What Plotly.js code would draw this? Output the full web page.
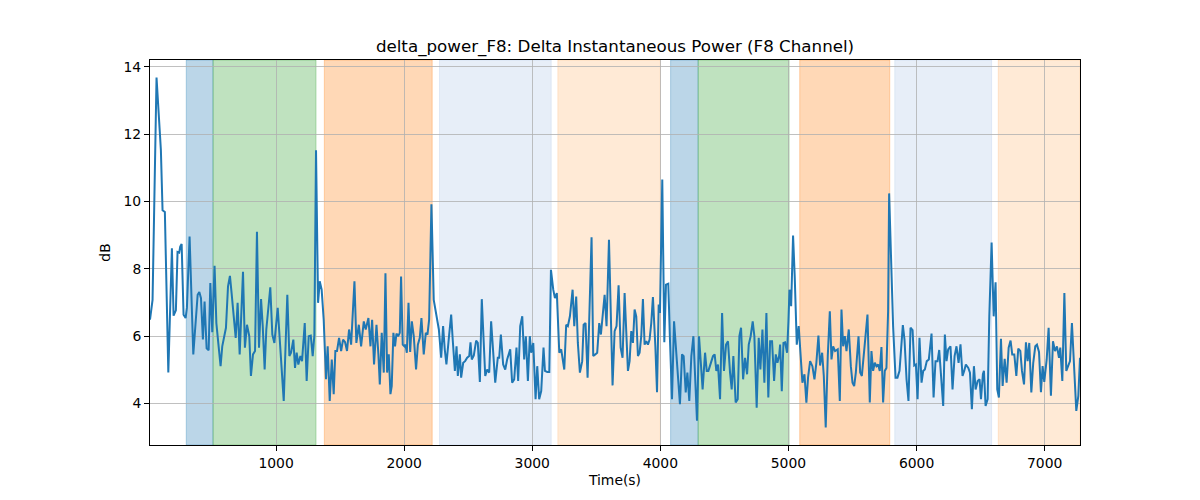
<!DOCTYPE html>
<html>
<head>
<meta charset="utf-8">
<script src="https://cdn.plot.ly/plotly-3.0.1.min.js"></script>
<style>
  html, body { margin: 0; padding: 0; background: #fff; }
  #chart { width: 1200px; height: 500px; }
</style>
</head>
<body>
<div id="chart"></div>
<script>
// time stamps (s) of the drawn vertices
var times = [
  16, 36, 67, 88, 101, 114, 132, 159, 187, 200, 218, 231, 244, 252, 263, 278, 294, 304, 325, 354,
  375, 388, 401, 414, 429, 442, 458, 474, 487, 502, 520, 534, 549, 567, 580, 596, 609, 625, 640, 653,
  669, 685, 700, 716, 742, 757, 773, 791, 804, 820, 836, 851, 867, 883, 896, 911, 924,
  955, 971, 987, 1013, 1034, 1060, 1075, 1088, 1104, 1117, 1135, 1148, 1161, 1174, 1190, 1203, 1224, 1239, 1255, 1271,
  1286, 1299, 1312, 1328, 1341, 1356, 1372, 1390, 1403, 1419, 1435, 1450, 1463, 1476, 1492, 1508, 1523, 1539, 1554, 1570,
  1586, 1612, 1627, 1646, 1664, 1685, 1700, 1721, 1737, 1750, 1765, 1784, 1799, 1810, 1825, 1841, 1854,
  1867, 1880, 1893, 1903, 1916, 1929, 1940, 1953, 1966, 1976, 1989, 2002, 2010, 2021, 2034, 2047, 2060, 2075, 2093, 2107,
  2122, 2135, 2153, 2169, 2182, 2195, 2213, 2231, 2250, 2271, 2289, 2304, 2317, 2330, 2349, 2367, 2380, 2396, 2409, 2419,
  2435, 2445, 2461, 2476, 2492, 2508, 2518, 2528, 2544, 2562, 2575, 2591, 2606, 2633, 2648, 2664, 2679, 2698, 2711, 2731,
  2742, 2755, 2773, 2789, 2804,
  2828, 2843, 2859, 2877, 2890, 2906, 2922, 2937, 2950, 2966, 2981, 2992, 3008, 3026, 3039, 3054, 3070, 3088, 3099, 3117,
  3133, 3146, 3164, 3177, 3192, 3211, 3226, 3250, 3265, 3278, 3294, 3315, 3328, 3343, 3356, 3372, 3390, 3401, 3416, 3432,
  3463, 3476, 3492, 3507, 3523, 3536, 3565, 3580, 3599, 3627, 3643, 3658, 3674, 3690, 3705,
  3721, 3747, 3760, 3773, 3786, 3799, 3812, 3825, 3838, 3851, 3864, 3877, 3890, 3903, 3916, 3929, 3942, 3961, 3974, 3987,
  3997, 4015, 4031, 4044, 4062, 4075, 4091, 4107, 4122, 4138, 4153, 4169, 4182, 4198, 4211, 4226, 4242, 4258, 4271, 4286,
  4302, 4317, 4330, 4349, 4362, 4375, 4393, 4411, 4424, 4437, 4450, 4466, 4482, 4497, 4513, 4528, 4544, 4557, 4570, 4588,
  4604, 4617, 4630, 4646, 4661, 4677, 4690,
  4705, 4721, 4734, 4752, 4768, 4781, 4797, 4812, 4828, 4843, 4857, 4872, 4888, 4901, 4914, 4927, 4935, 4948, 4961, 4974,
  4989, 5000, 5008, 5021, 5036, 5049, 5065, 5080, 5093, 5109, 5125, 5140, 5153, 5169, 5187, 5203, 5218, 5234, 5247, 5263,
  5276, 5291, 5307, 5323, 5336, 5349, 5364, 5385, 5401, 5414, 5427, 5440, 5453, 5471, 5487, 5500, 5513, 5526, 5547, 5560,
  5573, 5588, 5601, 5617,
  5635, 5648, 5661, 5674, 5687, 5700, 5713, 5726, 5739, 5752, 5765, 5778, 5786, 5799, 5817, 5836, 5851, 5867, 5883, 5893,
  5906, 5922, 5937, 5953, 5969, 5982, 5995, 6008, 6023, 6039, 6052, 6065, 6080, 6096, 6117, 6133, 6148, 6164, 6177, 6192,
  6208, 6221, 6234, 6247, 6265, 6281, 6297, 6312, 6328, 6343, 6359, 6372,
  6385, 6404, 6417, 6432, 6448, 6461, 6477, 6492, 6503, 6518, 6526, 6539, 6555, 6568, 6586, 6602, 6617, 6630, 6643, 6659,
  6672, 6688, 6703, 6719, 6734, 6747, 6763, 6779, 6794, 6810, 6823, 6839, 6854, 6867, 6880, 6896, 6911, 6927, 6940, 6956,
  6971, 6984, 6997, 7016, 7031, 7049, 7065, 7081, 7096, 7112, 7122, 7138, 7154, 7169, 7185, 7198, 7213, 7232, 7247, 7263,
  7276
];

// delta power (dB) at those times
var power = [
  6.49, 7.08, 13.68, 12.21, 11.52, 9.74, 9.69, 4.92, 8.61, 6.61, 6.77, 8.50, 8.48, 8.66, 8.74, 6.64, 6.54, 6.84, 8.96, 5.46,
  6.69, 7.23, 7.31, 7.13, 5.90, 7.03, 5.64, 5.58, 7.58, 6.12, 8.09, 6.39, 5.80, 5.11, 5.70, 6.05, 6.25, 7.48, 7.79, 7.28,
  6.69, 5.95, 6.99, 5.46, 7.91, 5.66, 6.34, 6.00, 4.82, 5.46, 5.56, 9.10, 5.66, 7.10, 6.30, 5.01, 6.20,
  7.45, 6.05, 5.80, 6.84, 5.51, 4.08, 5.80, 7.23, 5.41, 5.51, 5.90, 5.06, 5.51, 5.16, 5.41, 5.26, 6.39, 4.67, 6.00, 6.02,
  5.41, 6.02, 11.52, 6.99, 7.63, 7.38, 6.49, 4.72, 5.70, 4.08, 5.31, 4.28, 5.56, 5.56, 5.95, 5.56, 5.90, 5.82, 5.56, 6.20,
  5.75, 7.63, 5.80, 6.34, 5.70, 6.44, 6.20, 6.54, 5.70, 6.49, 5.16, 6.34, 5.46, 4.57, 6.10, 4.92, 7.87,
  4.92, 5.46, 4.28, 4.52, 6.10, 5.70, 6.08, 6.00, 6.10, 7.77, 5.75, 5.70, 5.75, 5.51, 6.99, 5.53, 6.44, 6.00, 5.01, 5.75,
  5.95, 6.54, 5.46, 6.10, 6.05, 6.49, 9.92, 7.08, 6.64, 6.20, 5.36, 6.30, 5.61, 5.16, 5.95, 6.64, 5.85, 4.97, 5.70, 4.82,
  5.46, 4.77, 5.21, 5.26, 5.36, 5.41, 5.82, 5.31, 5.43, 5.87, 5.80, 4.64, 7.10, 4.82, 5.01, 4.92, 6.44, 5.36, 4.62, 5.36,
  5.36, 6.05, 5.16, 5.01, 5.31,
  5.61, 4.62, 4.72, 5.66, 4.67, 6.30, 6.59, 5.31, 6.00, 4.67, 6.00, 5.51, 5.80, 4.13, 5.11, 4.13, 4.37, 5.66, 4.97, 4.94,
  4.94, 7.97, 7.38, 7.13, 7.28, 5.51, 5.61, 5.01, 6.34, 6.30, 6.59, 7.38, 6.30, 7.18, 5.80, 4.92, 5.26, 6.34, 6.39, 4.77,
  8.94, 5.41, 5.46, 5.51, 6.39, 6.05, 7.23, 6.30, 8.86, 4.54, 6.15, 6.30, 7.51, 5.66, 5.36,
  7.28, 4.97, 5.26, 6.15, 5.80, 6.79, 6.59, 5.41, 5.51, 6.00, 7.10, 5.75, 5.85, 5.75, 5.90, 6.39, 7.16, 5.70, 4.34, 6.94,
  6.69, 10.65, 5.82, 7.53, 7.56, 5.90, 4.13, 6.44, 5.61, 4.92, 3.98, 5.46, 5.41, 4.33, 4.92, 4.08, 5.41, 6.00, 4.72, 3.49,
  6.00, 5.06, 4.42, 5.51, 4.97, 4.97, 5.16, 5.41, 5.46, 4.97, 5.16, 4.13, 6.69, 4.97, 5.75, 5.85, 4.92, 4.42, 5.41, 4.03,
  4.13, 6.00, 6.25, 4.72, 5.36, 4.87, 5.75,
  6.00, 6.44, 6.00, 3.88, 5.95, 5.01, 6.20, 4.62, 6.69, 4.18, 5.85, 5.85, 4.67, 5.46, 5.21, 5.41, 5.75, 4.37, 5.80, 5.82,
  5.51, 6.44, 7.38, 6.89, 8.99, 7.77, 5.75, 6.30, 5.51, 4.62, 4.87, 4.03, 4.77, 5.26, 5.11, 4.72, 5.21, 6.02, 5.13, 5.51,
  4.82, 3.29, 5.41, 6.74, 5.31, 5.70, 5.56, 5.61, 4.08, 6.79, 5.70, 6.00, 5.56, 6.20, 5.11, 4.62, 4.52, 4.92, 6.00, 4.92,
  4.82, 5.41, 5.90, 6.64,
  4.03, 5.56, 4.97, 5.21, 5.11, 5.16, 4.97, 5.68, 4.03, 4.97, 5.06, 6.74, 10.24, 8.66, 6.30, 4.77, 4.77, 4.97, 6.00, 6.33,
  5.90, 4.72, 4.08, 6.25, 6.18, 5.13, 5.16, 4.13, 5.95, 4.62, 4.97, 5.01, 5.26, 5.31, 6.08, 4.18, 5.26, 5.26, 5.59, 4.82,
  3.93, 6.05, 5.26, 5.61, 5.70, 4.42, 5.41, 5.70, 5.21, 5.76, 4.82, 4.97,
  5.16, 5.06, 4.92, 3.83, 5.11, 4.42, 4.67, 4.72, 4.13, 4.87, 4.97, 3.93, 4.13, 6.59, 8.78, 6.59, 7.60, 4.42, 4.18, 5.92,
  4.52, 5.33, 4.62, 5.66, 5.87, 5.46, 5.46, 4.82, 5.63, 5.56, 4.97, 4.57, 5.82, 5.26, 5.80, 4.33, 5.21, 5.70, 5.75, 5.53,
  4.34, 5.11, 4.64, 5.31, 6.25, 4.23, 5.85, 5.56, 5.70, 5.36, 5.66, 4.67, 7.28, 4.97, 5.11, 5.26, 6.39, 4.97, 3.78, 4.23,
  5.36
];

// shaded phases (start / end in seconds, and phase kind)
var spanStart = [299, 508, 1377, 2276, 3200, 4080, 4295, 5088, 5830, 6638];
var spanEnd   = [508, 1312, 2219, 3148, 4000, 4295, 5005, 5791, 6586, 7276];
var spanKind  = ["a", "b", "c", "d", "e", "a", "b", "c", "d", "e"];

var kindColor = {
    a: "rgba(31,119,180,0.3)",
    b: "rgba(44,160,44,0.3)",
    c: "rgba(255,127,14,0.3)",
    d: "rgba(174,199,232,0.3)",
    e: "rgba(255,187,120,0.3)"
};

var shapes = spanStart.map(function (s, i) {
    return {
        type: "rect",
        xref: "x",
        yref: "paper",
        x0: s,
        x1: spanEnd[i],
        y0: 0,
        y1: 1,
        fillcolor: kindColor[spanKind[i]],
        line: { width: 1, color: kindColor[spanKind[i]] },
        layer: "between"
    };
});

var data = [
    {
        type: "scatter",
        mode: "lines",
        x: times,
        y: power,
        line: { color: "#1f77b4", width: 2 },
        hoverinfo: "x+y"
    }
];

var axisCommon = {
    showgrid: true,
    gridcolor: "#b0b0b0",
    gridwidth: 0.8,
    showline: true,
    linecolor: "black",
    linewidth: 1,
    mirror: true,
    ticks: "outside",
    ticklen: 5,
    tickwidth: 1,
    tickcolor: "black",
    zeroline: false,
    tickfont: { family: "DejaVu Sans", size: 13.9, color: "black" }
};

var layout = {
    width: 1200,
    height: 500,
    margin: { l: 150, r: 120, t: 60, b: 55 },
    paper_bgcolor: "white",
    plot_bgcolor: "white",
    showlegend: false,
    font: { family: "DejaVu Sans", color: "black" },
    title: {
        text: "delta_power_F8: Delta Instantaneous Power (F8 Channel)",
        font: { family: "DejaVu Sans", size: 16.7, color: "black" },
        x: 0.5,
        xref: "paper",
        y: 0.908,
        yref: "container",
        yanchor: "middle"
    },
    xaxis: Object.assign({}, axisCommon, {
        range: [16, 7276],
        tickvals: [1000, 2000, 3000, 4000, 5000, 6000, 7000],
        title: { text: "Time(s)", font: { family: "DejaVu Sans", size: 13.9, color: "black" }, standoff: 5 }
    }),
    yaxis: Object.assign({}, axisCommon, {
        range: [2.77, 14.2],
        tickvals: [4, 6, 8, 10, 12, 14],
        title: { text: "dB", font: { family: "DejaVu Sans", size: 13.9, color: "black" }, standoff: 9 }
    }),
    shapes: shapes
};

Plotly.newPlot("chart", data, layout, { displayModeBar: false, staticPlot: true });
</script>
</body>
</html>
